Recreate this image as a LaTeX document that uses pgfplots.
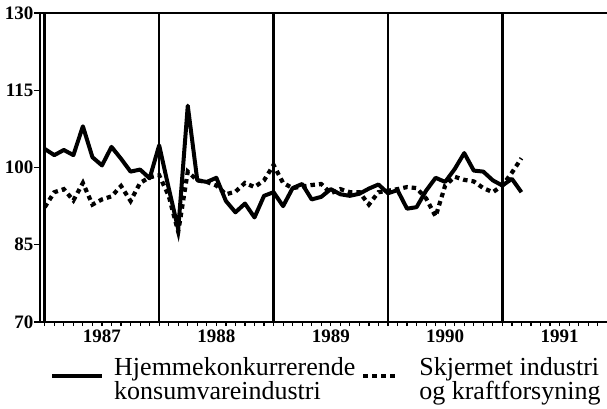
\documentclass[border=0pt]{standalone}
\usepackage{pgfplots}
\pgfplotsset{compat=1.18}
\usepackage{fontspec}
\setmainfont{Liberation Serif}
\pgfplotstableread{
m v
0 103.6
1 102.4
2 103.4
3 102.4
4 108
5 102
6 100.4
7 104
8 101.7
9 99.2
10 99.6
11 97.9
12 104.3
13 96
14 88
15 112
16 97.5
17 97.2
18 98
19 93.5
20 91.3
21 93
22 90.3
23 94.5
24 95.2
25 92.5
26 96
27 96.8
28 93.8
29 94.3
30 95.8
31 94.8
32 94.5
33 94.9
34 95.9
35 96.7
36 95
37 95.6
38 92
39 92.3
40 95.5
41 98
42 97.2
43 99.7
44 102.8
45 99.4
46 99.2
47 97.5
48 96.5
49 97.8
50 95.2
}\hjemme
\pgfplotstableread{
m v
0 92.3
1 95.2
2 95.8
3 93.6
4 97
5 92.8
6 93.8
7 94.4
8 96.4
9 93.5
10 97
11 98.1
12 98.5
13 94.5
14 87.5
15 99.2
16 97.5
17 97.2
18 96.5
19 94.8
20 95.3
21 97
22 96.2
23 97.5
24 100.5
25 97
26 96
27 96.3
28 96.6
29 96.8
30 95
31 95.8
32 95.2
33 95.2
34 92.8
35 95.2
36 95.5
37 95.8
38 96.2
39 96
40 94
41 90.5
42 96.5
43 98.2
44 97.6
45 97.3
46 96
47 95.2
48 96.5
49 99
50 101.8
}\skjermet
\begin{document}
\begin{tikzpicture}
\begin{axis}[
  at={(0,0)}, anchor=south west, scale only axis,
  width=572pt, height=309pt,
  xmin=-0.5, xmax=59.5, ymin=70, ymax=130,
  axis line style={line width=2.4pt},
  /pgf/number format/assume math mode=true,
  ytick={70,85,100,115,130},
  ytick pos=left, xtick pos=bottom,
  tick align=outside,
  major tick length=6pt,
  minor tick length=4pt,
  y tick style={line width=1.4pt, black},
  yticklabel style={font=\fontsize{19}{19}\selectfont\bfseries, inner sep=0.5pt},
  xtick={6,18,30,42,54},
  xticklabels={1987,1988,1989,1990,1991},
  x tick style={draw=none},
  minor xtick={0,1,...,59},
  minor x tick style={draw=black, line width=1.2pt},
  xticklabel style={font=\fontsize{19}{19}\selectfont\bfseries, inner sep=1pt, yshift=-1pt},
  extra x ticks={0,12,24,36,48},
  extra x tick labels={},
  extra x tick style={grid=major, major grid style={line width=2.6pt, black}, major tick length=0pt},
  legend columns=2,
  legend style={draw=none, fill=none, inner sep=0pt, at={(0.0175,-0.113)}, anchor=north west,
    font=\fontsize{26}{24}\selectfont,
    nodes={align=left, inner sep=0pt},
    /tikz/every even column/.append style={column sep=4pt}},
]
\addplot[black, line width=4pt, line join=round,
  legend image code/.code={\path[draw=none] (0pt,0pt) -- (62pt,0pt); \draw[black, solid, line width=4pt] (0pt,0.3em) -- (50pt,0.3em);}]
  table[x=m, y=v] {\hjemme};
\addlegendentry{Hjemmekonkurrerende\\konsumvareindustri}
\addplot[black, line width=4.2pt, dash pattern=on 4.5pt off 4pt,
  legend image code/.code={\path[draw=none] (0pt,0pt) -- (60pt,0pt); \draw[black, line width=4.2pt, dash pattern=on 5pt off 4pt] (4pt,0.3em) -- (38pt,0.3em);}]
  table[x=m, y=v] {\skjermet};
\addlegendentry{Skjermet industri\\og kraftforsyning}
\end{axis}
\pgfresetboundingbox
\useasboundingbox (-40pt,-87pt) rectangle (567pt,322pt);
\end{tikzpicture}
\end{document}
